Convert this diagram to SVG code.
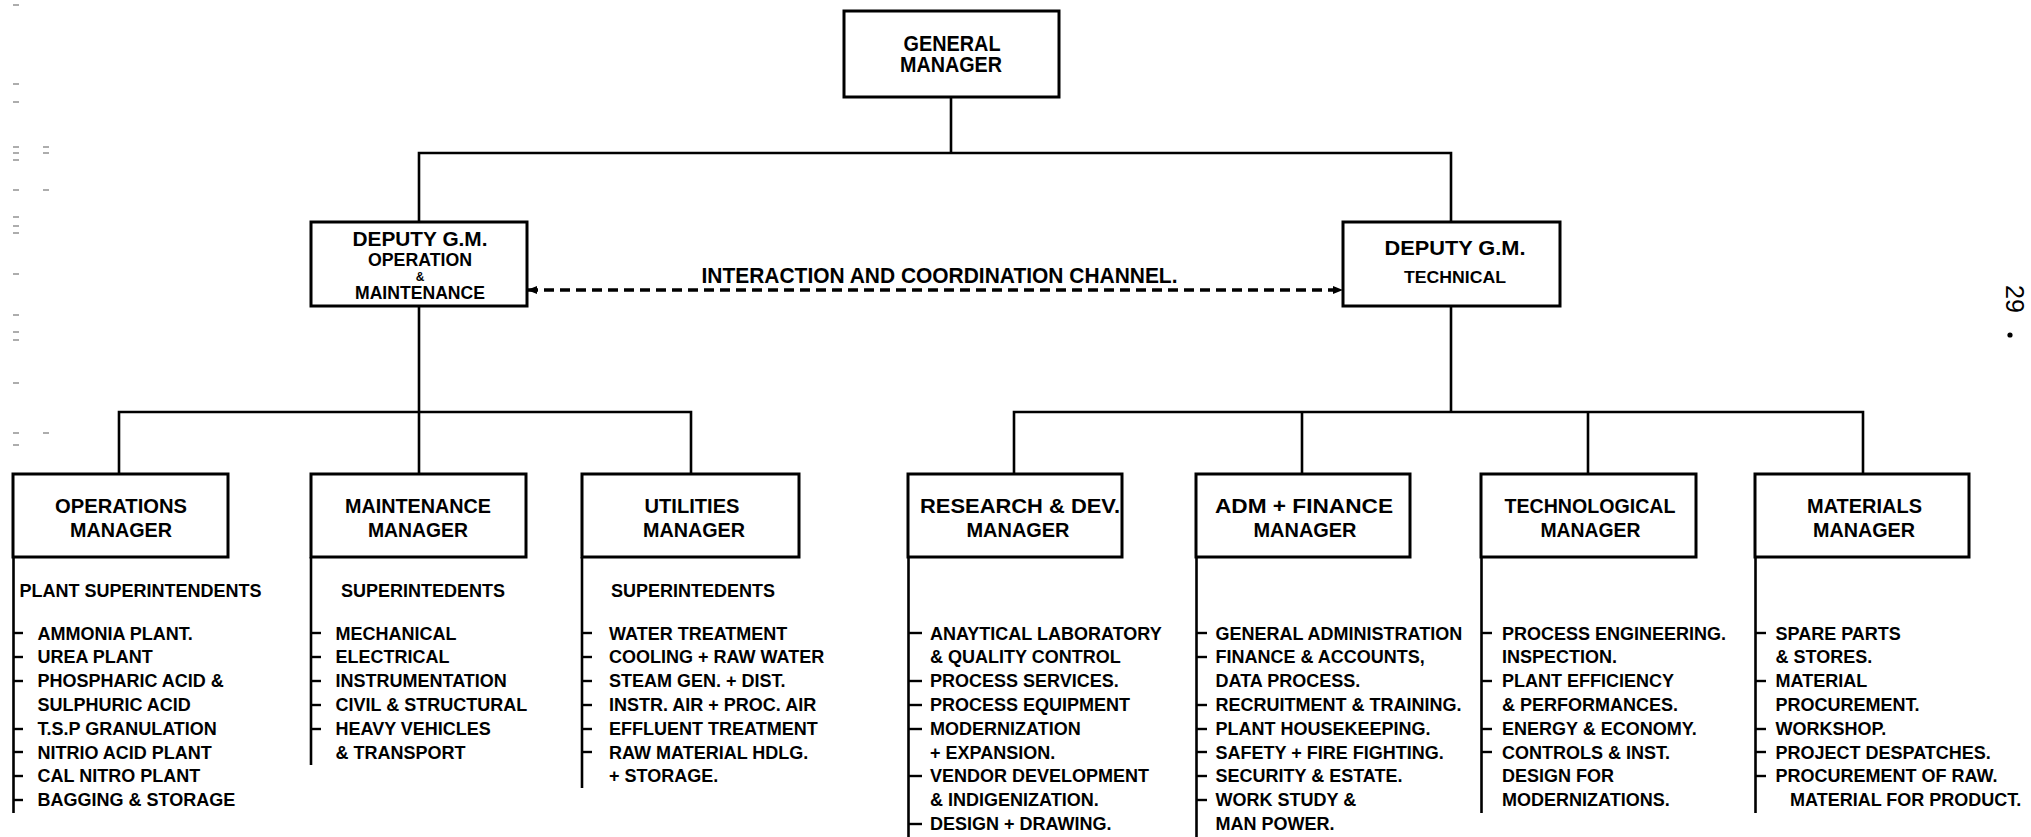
<svg xmlns="http://www.w3.org/2000/svg" width="2031" height="837" viewBox="0 0 2031 837">
<style>
  .box { fill: #fff; stroke: #000; stroke-width: 3; }
  .ln { fill: none; stroke: #000; stroke-width: 2.6; stroke-linecap: square; }
  .spine { fill: none; stroke: #000; stroke-width: 2.6; }
  .tick { stroke: #000; stroke-width: 2.4; }
  .dash { fill: none; stroke: #000; stroke-width: 3.5; stroke-dasharray: 10 6; }
  .t { font-family: "Liberation Sans", Arial, sans-serif; font-weight: bold; fill: #000; }
  .ttl { font-size: 20px; text-anchor: middle; }
  .big { font-size: 22px; text-anchor: middle; }
  .li { font-size: 18px; }
  .mark { stroke: #999; stroke-width: 1.6; }
  .pg { font-family: "Liberation Sans", Arial, sans-serif; font-size: 25px; fill: #000; }
</style>
<defs>
  <marker id="ah" viewBox="0 0 10 10" refX="9" refY="5" markerWidth="3" markerHeight="3" orient="auto-start-reverse" markerUnits="strokeWidth">
    <path d="M0,1 L10,5 L0,9 Z" fill="#000"/>
  </marker>
</defs>
<rect width="2031" height="837" fill="#fff"/>

<g id="scan-marks">
  <line class="mark" x1="13" y1="5" x2="19" y2="5"/>
  <line class="mark" x1="13" y1="84" x2="19" y2="84" stroke="#666"/>
  <line class="mark" x1="13" y1="102" x2="19" y2="102" stroke="#666"/>
  <line class="mark" x1="13" y1="147" x2="19" y2="147"/>
  <line class="mark" x1="13" y1="153" x2="19" y2="153"/>
  <line class="mark" x1="13" y1="160" x2="19" y2="160"/>
  <line class="mark" x1="43" y1="147" x2="49" y2="147"/>
  <line class="mark" x1="43" y1="153" x2="49" y2="153"/>
  <line class="mark" x1="13" y1="190" x2="19" y2="190"/>
  <line class="mark" x1="43" y1="190" x2="49" y2="190"/>
  <line class="mark" x1="13" y1="217" x2="19" y2="217"/>
  <line class="mark" x1="13" y1="226" x2="19" y2="226"/>
  <line class="mark" x1="13" y1="233" x2="19" y2="233"/>
  <line class="mark" x1="13" y1="274" x2="19" y2="274"/>
  <line class="mark" x1="13" y1="315" x2="19" y2="315"/>
  <line class="mark" x1="13" y1="332" x2="19" y2="332" stroke="#666"/>
  <line class="mark" x1="13" y1="340" x2="19" y2="340" stroke="#666"/>
  <line class="mark" x1="13" y1="383" x2="19" y2="383"/>
  <line class="mark" x1="13" y1="433" x2="19" y2="433"/>
  <line class="mark" x1="43" y1="433" x2="49" y2="433"/>
  <line class="mark" x1="13" y1="445" x2="19" y2="445" stroke="#666"/>
</g>

<g id="connectors">
  <path class="ln" d="M951,97 V153 M419,153 H1451 M419,153 V222 M1451,153 V222"/>
  <path class="ln" d="M419,306 V412 M119,412 H691 M119,412 V474 M419,412 V474 M691,412 V474"/>
  <path class="ln" d="M1451,306 V412 M1014,412 H1863 M1014,412 V474 M1302,412 V474 M1588,412 V474 M1863,412 V474"/>
  <line class="dash" x1="528" y1="290" x2="1342" y2="290" marker-start="url(#ah)" marker-end="url(#ah)"/>
  <text class="t" x="701.5" y="283" font-size="22" textLength="476" lengthAdjust="spacingAndGlyphs">INTERACTION AND COORDINATION CHANNEL.</text>
</g>

<g id="general-manager">
  <rect class="box" x="844" y="11" width="215" height="86"/>
  <text class="t big" x="952" y="51" textLength="97" lengthAdjust="spacingAndGlyphs">GENERAL</text>
  <text class="t big" x="951" y="72" textLength="102" lengthAdjust="spacingAndGlyphs">MANAGER</text>
</g>

<g id="deputy-gm-om">
  <rect class="box" x="311" y="222" width="216" height="84"/>
  <text class="t" x="420" y="246" font-size="20" text-anchor="middle" textLength="135" lengthAdjust="spacingAndGlyphs">DEPUTY G.M.</text>
  <text class="t" x="420" y="266" font-size="18" text-anchor="middle" textLength="104" lengthAdjust="spacingAndGlyphs">OPERATION</text>
  <text class="t" x="420" y="281" font-size="12" text-anchor="middle">&amp;</text>
  <text class="t" x="420" y="299" font-size="19" text-anchor="middle" textLength="130" lengthAdjust="spacingAndGlyphs">MAINTENANCE</text>
</g>

<g id="deputy-gm-tech">
  <rect class="box" x="1343" y="222" width="217" height="84"/>
  <text class="t" x="1455" y="255" font-size="20" text-anchor="middle" textLength="141" lengthAdjust="spacingAndGlyphs">DEPUTY G.M.</text>
  <text class="t" x="1455" y="283" font-size="17" text-anchor="middle" textLength="102" lengthAdjust="spacingAndGlyphs">TECHNICAL</text>
</g>

<g id="operations-manager">
  <rect class="box" x="13" y="474" width="215" height="83"/>
  <text class="t ttl" x="121" y="513" textLength="132" lengthAdjust="spacingAndGlyphs">OPERATIONS</text>
  <text class="t ttl" x="121" y="537" textLength="102" lengthAdjust="spacingAndGlyphs">MANAGER</text>
  <line class="spine" x1="13.5" y1="557" x2="13.5" y2="813"/>
  <text class="t li" x="19.5" y="597">PLANT SUPERINTENDENTS</text>
  <g class="tick">
    <line x1="13" y1="633" x2="23" y2="633"/><line x1="13" y1="657" x2="23" y2="657"/>
    <line x1="13" y1="681" x2="23" y2="681"/><line x1="13" y1="729" x2="23" y2="729"/>
    <line x1="13" y1="752" x2="23" y2="752"/><line x1="13" y1="776" x2="23" y2="776"/>
    <line x1="13" y1="800" x2="23" y2="800"/>
  </g>
  <text class="t li" x="37.5" y="639.5">AMMONIA PLANT.</text>
  <text class="t li" x="37.5" y="663.3">UREA PLANT</text>
  <text class="t li" x="37.5" y="687.1">PHOSPHARIC ACID &amp;</text>
  <text class="t li" x="37.5" y="710.9">SULPHURIC ACID</text>
  <text class="t li" x="37.5" y="734.7">T.S.P GRANULATION</text>
  <text class="t li" x="37.5" y="758.5">NITRIO ACID PLANT</text>
  <text class="t li" x="37.5" y="782.3">CAL NITRO PLANT</text>
  <text class="t li" x="37.5" y="806.1">BAGGING &amp; STORAGE</text>
</g>

<g id="maintenance-manager">
  <rect class="box" x="311" y="474" width="215" height="83"/>
  <text class="t ttl" x="418" y="513" textLength="146" lengthAdjust="spacingAndGlyphs">MAINTENANCE</text>
  <text class="t ttl" x="418" y="537" textLength="100" lengthAdjust="spacingAndGlyphs">MANAGER</text>
  <line class="spine" x1="311" y1="557" x2="311" y2="765"/>
  <text class="t li" x="341" y="597">SUPERINTEDENTS</text>
  <g class="tick">
    <line x1="311" y1="633" x2="321" y2="633"/><line x1="311" y1="657" x2="321" y2="657"/>
    <line x1="311" y1="681" x2="321" y2="681"/><line x1="311" y1="705" x2="321" y2="705"/>
    <line x1="311" y1="729" x2="321" y2="729"/>
  </g>
  <text class="t li" x="335.5" y="639.5">MECHANICAL</text>
  <text class="t li" x="335.5" y="663.3">ELECTRICAL</text>
  <text class="t li" x="335.5" y="687.1">INSTRUMENTATION</text>
  <text class="t li" x="335.5" y="710.9">CIVIL &amp; STRUCTURAL</text>
  <text class="t li" x="335.5" y="734.7">HEAVY VEHICLES</text>
  <text class="t li" x="335.5" y="758.5">&amp; TRANSPORT</text>
</g>

<g id="utilities-manager">
  <rect class="box" x="582" y="474" width="217" height="83"/>
  <text class="t ttl" x="692" y="513" textLength="95" lengthAdjust="spacingAndGlyphs">UTILITIES</text>
  <text class="t ttl" x="694" y="537" textLength="102" lengthAdjust="spacingAndGlyphs">MANAGER</text>
  <line class="spine" x1="582" y1="557" x2="582" y2="788"/>
  <text class="t li" x="611" y="597">SUPERINTEDENTS</text>
  <g class="tick">
    <line x1="582" y1="633" x2="592" y2="633"/><line x1="582" y1="657" x2="592" y2="657"/>
    <line x1="582" y1="681" x2="592" y2="681"/><line x1="582" y1="705" x2="592" y2="705"/>
    <line x1="582" y1="729" x2="592" y2="729"/><line x1="582" y1="752" x2="592" y2="752"/>
  </g>
  <text class="t li" x="609" y="639.5">WATER TREATMENT</text>
  <text class="t li" x="609" y="663.3">COOLING + RAW WATER</text>
  <text class="t li" x="609" y="687.1">STEAM GEN. + DIST.</text>
  <text class="t li" x="609" y="710.9">INSTR. AIR + PROC. AIR</text>
  <text class="t li" x="609" y="734.7">EFFLUENT TREATMENT</text>
  <text class="t li" x="609" y="758.5">RAW MATERIAL HDLG.</text>
  <text class="t li" x="609" y="782.3">+ STORAGE.</text>
</g>

<g id="research-dev-manager">
  <rect class="box" x="908" y="474" width="214" height="83"/>
  <text class="t ttl" x="1020" y="513" textLength="200" lengthAdjust="spacingAndGlyphs">RESEARCH &amp; DEV.</text>
  <text class="t ttl" x="1018" y="537" textLength="103" lengthAdjust="spacingAndGlyphs">MANAGER</text>
  <line class="spine" x1="908.5" y1="557" x2="908.5" y2="837"/>
  <g class="tick">
    <line x1="908" y1="633" x2="922" y2="633"/><line x1="908" y1="681" x2="922" y2="681"/>
    <line x1="908" y1="705" x2="922" y2="705"/><line x1="908" y1="729" x2="922" y2="729"/>
    <line x1="908" y1="776" x2="922" y2="776"/><line x1="908" y1="824" x2="922" y2="824"/>
  </g>
  <text class="t li" x="930" y="639.5">ANAYTICAL LABORATORY</text>
  <text class="t li" x="930" y="663.3">&amp; QUALITY CONTROL</text>
  <text class="t li" x="930" y="687.1">PROCESS SERVICES.</text>
  <text class="t li" x="930" y="710.9">PROCESS EQUIPMENT</text>
  <text class="t li" x="930" y="734.7">MODERNIZATION</text>
  <text class="t li" x="930" y="758.5">+ EXPANSION.</text>
  <text class="t li" x="930" y="782.3">VENDOR DEVELOPMENT</text>
  <text class="t li" x="930" y="806.1">&amp; INDIGENIZATION.</text>
  <text class="t li" x="930" y="829.9">DESIGN + DRAWING.</text>
</g>

<g id="adm-finance-manager">
  <rect class="box" x="1196" y="474" width="214" height="83"/>
  <text class="t ttl" x="1304" y="513" textLength="178" lengthAdjust="spacingAndGlyphs">ADM + FINANCE</text>
  <text class="t ttl" x="1305" y="537" textLength="103" lengthAdjust="spacingAndGlyphs">MANAGER</text>
  <line class="spine" x1="1196.5" y1="557" x2="1196.5" y2="837"/>
  <g class="tick">
    <line x1="1196" y1="633" x2="1207" y2="633"/><line x1="1196" y1="657" x2="1207" y2="657"/>
    <line x1="1196" y1="705" x2="1207" y2="705"/><line x1="1196" y1="729" x2="1207" y2="729"/>
    <line x1="1196" y1="752" x2="1207" y2="752"/><line x1="1196" y1="776" x2="1207" y2="776"/>
    <line x1="1196" y1="800" x2="1207" y2="800"/>
  </g>
  <text class="t li" x="1215.5" y="639.5">GENERAL ADMINISTRATION</text>
  <text class="t li" x="1215.5" y="663.3">FINANCE &amp; ACCOUNTS,</text>
  <text class="t li" x="1215.5" y="687.1">DATA PROCESS.</text>
  <text class="t li" x="1215.5" y="710.9">RECRUITMENT &amp; TRAINING.</text>
  <text class="t li" x="1215.5" y="734.7">PLANT HOUSEKEEPING.</text>
  <text class="t li" x="1215.5" y="758.5">SAFETY + FIRE FIGHTING.</text>
  <text class="t li" x="1215.5" y="782.3">SECURITY &amp; ESTATE.</text>
  <text class="t li" x="1215.5" y="806.1">WORK STUDY &amp;</text>
  <text class="t li" x="1215.5" y="829.9">MAN POWER.</text>
</g>

<g id="technological-manager">
  <rect class="box" x="1481" y="474" width="215" height="83"/>
  <text class="t ttl" x="1590" y="513" textLength="171" lengthAdjust="spacingAndGlyphs">TECHNOLOGICAL</text>
  <text class="t ttl" x="1590.5" y="537" textLength="100" lengthAdjust="spacingAndGlyphs">MANAGER</text>
  <line class="spine" x1="1481.5" y1="557" x2="1481.5" y2="813"/>
  <g class="tick">
    <line x1="1481" y1="633" x2="1492" y2="633"/><line x1="1481" y1="681" x2="1492" y2="681"/>
    <line x1="1481" y1="729" x2="1492" y2="729"/><line x1="1481" y1="752" x2="1492" y2="752"/>
  </g>
  <text class="t li" x="1502" y="639.5">PROCESS ENGINEERING.</text>
  <text class="t li" x="1502" y="663.3">INSPECTION.</text>
  <text class="t li" x="1502" y="687.1">PLANT EFFICIENCY</text>
  <text class="t li" x="1502" y="710.9">&amp; PERFORMANCES.</text>
  <text class="t li" x="1502" y="734.7">ENERGY &amp; ECONOMY.</text>
  <text class="t li" x="1502" y="758.5">CONTROLS &amp; INST.</text>
  <text class="t li" x="1502" y="782.3">DESIGN FOR</text>
  <text class="t li" x="1502" y="806.1">MODERNIZATIONS.</text>
</g>

<g id="materials-manager">
  <rect class="box" x="1755" y="474" width="214" height="83"/>
  <text class="t ttl" x="1864.5" y="513" textLength="115" lengthAdjust="spacingAndGlyphs">MATERIALS</text>
  <text class="t ttl" x="1864" y="537" textLength="102" lengthAdjust="spacingAndGlyphs">MANAGER</text>
  <line class="spine" x1="1755.5" y1="557" x2="1755.5" y2="813"/>
  <g class="tick">
    <line x1="1755" y1="633" x2="1766" y2="633"/><line x1="1755" y1="681" x2="1766" y2="681"/>
    <line x1="1755" y1="729" x2="1766" y2="729"/><line x1="1755" y1="752" x2="1766" y2="752"/>
    <line x1="1755" y1="776" x2="1766" y2="776"/>
  </g>
  <text class="t li" x="1775.5" y="639.5">SPARE PARTS</text>
  <text class="t li" x="1775.5" y="663.3">&amp; STORES.</text>
  <text class="t li" x="1775.5" y="687.1">MATERIAL</text>
  <text class="t li" x="1775.5" y="710.9">PROCUREMENT.</text>
  <text class="t li" x="1775.5" y="734.7">WORKSHOP.</text>
  <text class="t li" x="1775.5" y="758.5">PROJECT DESPATCHES.</text>
  <text class="t li" x="1775.5" y="782.3">PROCUREMENT OF RAW.</text>
  <text class="t li" x="1790" y="806.1">MATERIAL FOR PRODUCT.</text>
</g>

<g id="page-number">
  <text class="pg" x="2015" y="299" text-anchor="middle" dominant-baseline="central" transform="rotate(90 2015 299)">29</text>
  <circle cx="2010" cy="335" r="2.6" fill="#000"/>
</g>
</svg>
